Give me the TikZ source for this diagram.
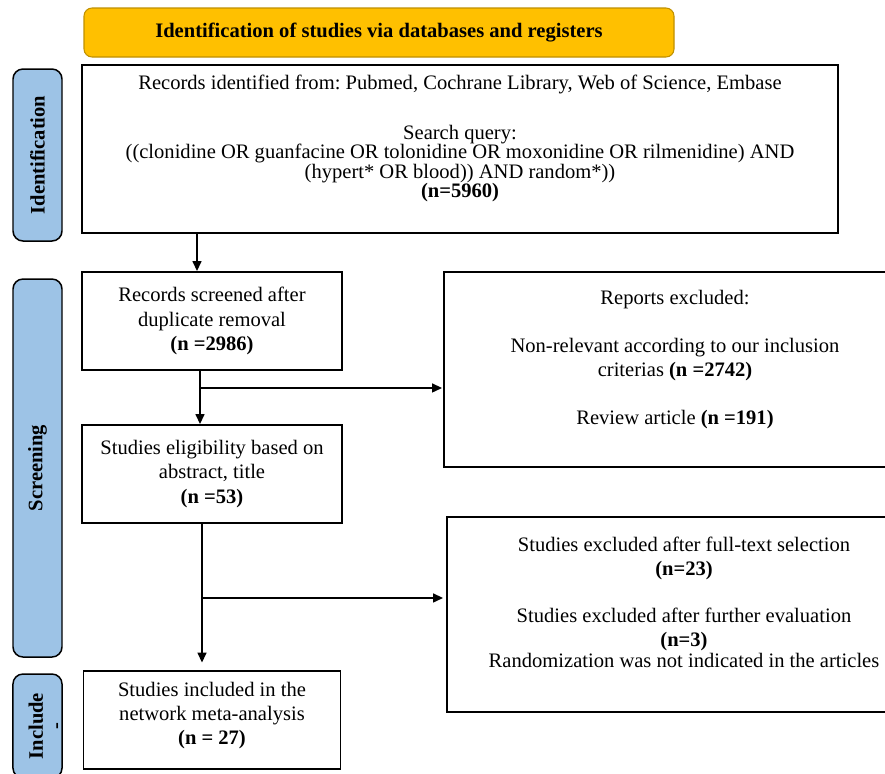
\documentclass[tikz,border=0pt]{standalone}
\usepackage{fontspec}
\setmainfont{Liberation Serif}
\usetikzlibrary{positioning,arrows.meta}
\definecolor{headgold}{HTML}{FFC000}
\definecolor{headedge}{HTML}{BF9000}
\definecolor{sideblue}{HTML}{9DC3E6}
\newcommand{\lowpad}[1]{\rule[-#1]{0pt}{#1}}
\tikzset{main node/.style={rectangle,draw,line width=1.1pt,align=center,inner sep=2pt,font=\fontsize{11.7}{13.7}\selectfont},
  side node/.style={rectangle,rounded corners=0.2cm,draw,line width=0.85pt,fill=sideblue,minimum height=0.98cm,rotate=90,align=center,font=\fontsize{11.7}{13.7}\selectfont\bfseries},
  head node/.style={rectangle,rounded corners=0.16cm,draw=headedge,line width=0.6pt,fill=headgold,font=\fontsize{11.7}{13.7}\selectfont\bfseries},
  flow line/.style={line width=0.85pt,-{Triangle[length=0.2cm,width=0.18cm]}} }

\begin{document}
\frenchspacing
\begin{tikzpicture}
\useasboundingbox (0,0) rectangle (17.7,-15.46);
\begin{scope}[on grid]

  \node[head node,minimum width=11.8cm,minimum height=0.98cm] (0) at (7.58,-0.65) {Identification of studies via databases and registers};
  \node[main node,minimum width=15.12cm,minimum height=3.36cm,font=\fontsize{11.7}{11.1}\selectfont] (1) at (9.2,-2.98)
    {Records identified from: Pubmed, Cochrane Library, Web of Science, Embase\\[0.6cm]
     Search query:\\
     ((clonidine OR guanfacine OR tolonidine OR moxonidine OR rilmenidine) AND\\
     (hypert* OR blood)) AND random*))\\
     \textbf{(n=5960)}\lowpad{0.5cm}};
  \node[main node,minimum width=5.2cm,minimum height=1.96cm] (2) at (4.24,-6.42)
    {Records screened after\\ duplicate removal\\ \textbf{(n =2986)}};
  \node[main node,minimum width=5.2cm,minimum height=1.96cm] (3) [below=3.06cm of 2]
    {Studies eligibility based on\\ abstract, title\\ \textbf{(n =53)}};
  \node[main node,minimum width=5.14cm,minimum height=1.96cm] (4) [below=4.92cm of 3]
    {Studies included in the\\ network meta-analysis\\ \textbf{(n = 27)}\lowpad{0.28cm}};
  \node[main node,minimum width=9.24cm,minimum height=3.9cm] (5) [below right=0.97cm and 9.26cm of 2]
    {Reports excluded:\\[0.48cm]
     Non-relevant according to our inclusion\\
     criterias \textbf{(n =2742)}\\[0.48cm]
     Review article \textbf{(n =191)}\lowpad{0.5cm}};
  \node[main node,minimum width=9.48cm,minimum height=3.9cm] (6) [below right=2.81cm and 9.44cm of 3]
    {Studies excluded after full-text selection\\
     \textbf{(n=23)}\\[0.46cm]
     Studies excluded after further evaluation\\
     \textbf{(n=3)}\\[-0.06cm]
     Randomization was not indicated in the articles\lowpad{0.5cm}};

  \node[side node,minimum width=3.44cm] (7) at (0.75,-3.1) {Identification};
  \node[side node,minimum width=7.56cm] (8) at (0.75,-9.36) {Screening};
  \node[side node,minimum width=2.08cm,inner ysep=0pt] (9) at (0.75,-14.52) {\rule{0pt}{0.6cm}Include\\[-0.1cm]-};

  \coordinate (a) at ([xshift=-0.24cm,yshift=-0.34cm]2.south);
  \coordinate (b) at ([xshift=-0.2cm,yshift=-1.48cm]3.south);

  \draw[flow line] ([xshift=-0.3cm]2.north |- 1.south) -- ([xshift=-0.3cm]2.north);
  \draw[flow line] ([xshift=-0.24cm]2.south) -- ([xshift=-0.24cm]3.north);
  \draw[flow line,shorten >=0.02cm] (a) -- (a -| 5.west);
  \draw[flow line,shorten >=0.15cm] ([xshift=-0.2cm]3.south) -- ([xshift=-0.2cm]4.north);
  \draw[flow line,shorten >=0.06cm] (b) -- (b -| 6.west);
\end{scope}
\end{tikzpicture}
\end{document}
